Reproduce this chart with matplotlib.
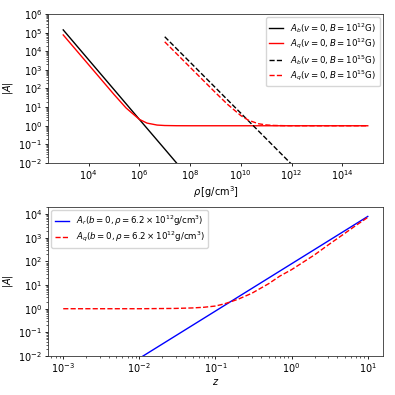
import matplotlib
matplotlib.use("Agg")
import matplotlib.pyplot as plt

# ---- top panel data ----
rho_b12 = [1e3, 1e4, 1e5, 1e6, 1e7, 1e8, 1e9]
Ab_b12 = [1.4e5, 3.5e3, 88, 2.2, 0.056, 1.4e-3, 3.5e-5]

rho_q12 = [1e3, 1e4, 1e5, 3e5, 1e6, 2e6, 5e6, 1e7, 3e7, 1e8, 1e9, 1e12, 1e15]
Aq_q12 = [7.5e4, 1.9e3, 48, 9.0, 2.2, 1.39, 1.09, 1.03, 1.005, 1.0, 1.0, 1.0, 1.0]

rho_b15 = [1e7, 1e8, 1e9, 1e10, 1e11, 1e12, 1e13]
Ab_b15 = [6.0e4, 2570, 110, 4.7, 0.2, 8.5e-3, 3.6e-4]

rho_q15 = [1e7, 1e8, 1e9, 3e9, 1e10, 2e10, 5e10, 1e11, 2e11, 5e11, 1e12, 1e13, 1e15]
Aq_q15 = [3.2e4, 1380, 60, 14, 3.5, 1.97, 1.28, 1.107, 1.04, 1.012, 1.005, 1.0, 1.0]

rho_ticks = [1e4, 1e6, 1e8, 1e10, 1e12, 1e14]

# ---- bottom panel data ----
z_r = [1e-3, 1e-2, 1e-1, 1, 10]
Ar = [8e-5, 8e-3, 0.8, 80, 8000]

z_q = [1e-3, 1e-2, 0.03, 0.05, 0.07, 0.1, 0.13, 0.15, 0.2, 0.3, 0.5, 0.7, 1, 2, 3, 5, 7, 10]
Aq = [1.0, 1.0, 1.03, 1.08, 1.15, 1.3, 1.6, 1.85, 2.55, 4.5, 11.5, 24, 45, 190, 490, 1550, 3340, 7300]

fs = 7
plt.rcParams.update({
    'font.size': fs,
    'axes.linewidth': 0.6,
    'xtick.major.width': 0.6, 'ytick.major.width': 0.6,
    'xtick.minor.width': 0.45, 'ytick.minor.width': 0.45,
    'xtick.major.size': 2.5, 'ytick.major.size': 2.5,
    'xtick.minor.size': 1.5, 'ytick.minor.size': 1.5,
    'xtick.major.pad': 1.5, 'ytick.major.pad': 1.8,
    'legend.fontsize': 6.2,
    'legend.labelspacing': 0.2,
    'legend.handlelength': 1.6,
    'legend.borderaxespad': 0.4,
    'axes.edgecolor': '#333333',
})

fig = plt.figure(figsize=(3.95, 3.95), dpi=100)
ax1 = fig.add_axes([0.1215, 0.5873, 0.8481, 0.3773])
ax2 = fig.add_axes([0.1215, 0.0987, 0.8481, 0.3773])

lw = 1.0
ax1.plot(rho_b12, Ab_b12, 'k-', lw=lw, label=r'$A_b(v=0, B=10^{12}{\rm G})$')
ax1.plot(rho_q12, Aq_q12, 'r-', lw=lw, label=r'$A_q(v=0, B=10^{12}{\rm G})$')
ax1.plot(rho_b15, Ab_b15, 'k--', lw=lw, label=r'$A_b(v=0, B=10^{15}{\rm G})$')
ax1.plot(rho_q15, Aq_q15, 'r--', lw=lw, label=r'$A_q(v=0, B=10^{15}{\rm G})$')
ax1.set_xscale('log')
ax1.set_yscale('log')
ax1.set_ylim(1e-2, 1e6)
ax1.set_xticks(rho_ticks)
ax1.set_xlabel(r'$\rho\,[{\rm g/cm^3}]$', labelpad=1)
ax1.set_ylabel(r'$|A|$', labelpad=2)
ax1.legend(loc='upper right')

ax2.plot(z_r, Ar, 'b-', lw=lw, label=r'$A_r(b=0, \rho=6.2\times10^{12}{\rm g/cm^3})$')
ax2.plot(z_q, Aq, 'r--', lw=lw, label=r'$A_q(b=0, \rho=6.2\times10^{12}{\rm g/cm^3})$')
ax2.set_xscale('log')
ax2.set_yscale('log')
ax2.set_ylim(bottom=1e-2)
ax2.set_xlabel(r'$z$', labelpad=1)
ax2.set_ylabel(r'$|A|$', labelpad=2)
ax2.legend(loc='upper left')

fig.savefig('out.png', dpi=100)
